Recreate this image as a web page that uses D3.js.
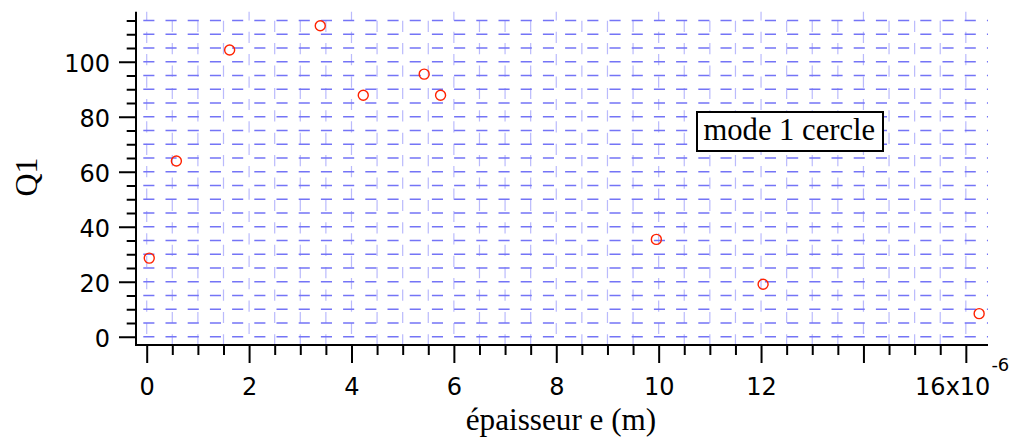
<!DOCTYPE html>
<html>
<head>
<meta charset="utf-8">
<script src="https://cdn.jsdelivr.net/npm/d3@7/dist/d3.min.js"></script>
<style>
  html, body { margin: 0; padding: 0; background: #fff; }
  svg { display: block; }
</style>
</head>
<body>
<svg id="chart" width="1010" height="438"></svg>
<script>
// épaisseur e, in units of 1e-6 m
const thickness = [0.05, 0.58, 1.62, 3.39, 4.23, 5.42, 5.74, 9.955, 12.04, 16.26];
// Q1 values
const q1 = [28.6, 63.9, 104.3, 113.1, 87.8, 95.5, 87.8, 35.4, 19.1, 8.4];
// axis ticks
const xMajorTicks = [0, 2, 4, 6, 8, 10, 12, 14, 16];
const xTickLabels = ["0", "2", "4", "6", "8", "10", "12", "", "16x10"];
const xExponent = "-6";
const yMajorTicks = [0, 20, 40, 60, 80, 100];
const yTickLabels = ["0", "20", "40", "60", "80", "100"];
const xMinorStep = 0.5;
const yMinorStep = 5;
const legendText = "mode 1 cercle";
const xTitle = "épaisseur e (m)";
const yTitle = "Q1";

const svg = d3.select("#chart");
const pLeft = 136, pRight = 988, pTop = 11.7, pBottom = 345;

const x = d3.scaleLinear().domain([-0.209, 16.433]).range([pLeft, pRight]);
const y = d3.scaleLinear().domain([-3.0, 118.2]).range([pBottom, pTop]);

const xMinor = d3.range(0, 16 + 1e-9, xMinorStep);
const yMinor = d3.range(0, 115 + 1e-9, yMinorStep);
const isXMajor = v => Math.abs(v / 2 - Math.round(v / 2)) < 1e-9;
const isYMajor = v => Math.abs(v / 20 - Math.round(v / 20)) < 1e-9 && v <= 100;

// grid
const grid = svg.append("g");
grid.selectAll("line.v").data(xMinor).join("line")
  .attr("class", "v")
  .attr("x1", d => x(d)).attr("x2", d => x(d))
  .attr("y1", pTop).attr("y2", pBottom)
  .attr("stroke", "#8c8cfa")
  .attr("stroke-opacity", 0.6)
  .attr("stroke-width", 1.2)
  .attr("stroke-dasharray", "11.2,11.2")
  .attr("stroke-dashoffset", d => isXMajor(d) ? 2.4 : 13.4);

grid.selectAll("line.h").data(yMinor).join("line")
  .attr("class", "h")
  .attr("x1", pLeft).attr("x2", pRight)
  .attr("y1", d => y(d)).attr("y2", d => y(d))
  .attr("stroke", "#7474f6")
  .attr("stroke-width", 1.3)
  .attr("stroke-dasharray", "11.1,11.1")
  .attr("stroke-dashoffset", 14.9);

// axes
const axisColor = "#000";
const xAxisMajor = d3.axisBottom(x).tickValues(xMajorTicks)
  .tickSize(18).tickPadding(12)
  .tickFormat((d, i) => xTickLabels[i]);
const xAxisMinor = d3.axisBottom(x).tickValues(xMinor.filter(v => !isXMajor(v)))
  .tickSize(10).tickFormat("");
const yAxisMajor = d3.axisLeft(y).tickValues(yMajorTicks)
  .tickSize(17).tickPadding(9)
  .tickFormat((d, i) => yTickLabels[i]);
const yAxisMinor = d3.axisLeft(y).tickValues(yMinor.filter(v => !isYMajor(v)))
  .tickSize(9.3).tickFormat("");

function styleAxis(g) {
  g.select(".domain").remove();
  g.selectAll(".tick line").attr("stroke", axisColor).attr("stroke-width", 2);
  g.selectAll(".tick text")
    .attr("fill", "#000")
    .style("font-family", "'DejaVu Sans', sans-serif")
    .style("font-size", "24px");
}

svg.append("g").attr("transform", `translate(0,${pBottom})`).call(xAxisMinor).call(styleAxis);
const gx = svg.append("g").attr("transform", `translate(0,${pBottom})`).call(xAxisMajor).call(styleAxis);
gx.selectAll(".tick text").attr("dy", null).attr("y", 50);

// exponent on last x label
gx.selectAll(".tick").filter(d => d === 16).select("text")
  .attr("text-anchor", "end").attr("x", 43)
  .append("tspan").attr("dy", -24).style("font-size", "18px").attr("dx", 1).text(xExponent);

svg.append("g").attr("transform", `translate(${pLeft},0)`).call(yAxisMinor).call(styleAxis);
const gy = svg.append("g").attr("transform", `translate(${pLeft},0)`).call(yAxisMajor).call(styleAxis);
gy.selectAll(".tick text").attr("dy", "0.42em");

// axis lines
svg.append("line").attr("x1", pLeft).attr("x2", pRight).attr("y1", pBottom).attr("y2", pBottom)
  .attr("stroke", axisColor).attr("stroke-width", 2);
svg.append("line").attr("x1", pLeft).attr("x2", pLeft).attr("y1", pTop).attr("y2", pBottom + 1)
  .attr("stroke", axisColor).attr("stroke-width", 2);

// points
const pts = thickness.map((t, i) => ({ t, q: q1[i] }));
svg.append("g").selectAll("circle").data(pts).join("circle")
  .attr("cx", d => x(d.t)).attr("cy", d => y(d.q)).attr("r", 5)
  .attr("fill", "none").attr("stroke", "#ff2200").attr("stroke-width", 1.4);

// legend
const lg = svg.append("g");
lg.append("rect").attr("x", 697).attr("y", 112).attr("width", 186).attr("height", 39)
  .attr("fill", "#fff").attr("stroke", "#000").attr("stroke-width", 2);
lg.append("text").attr("x", 703.5).attr("y", 139.5)
  .style("font-family", "'Liberation Serif', 'Times New Roman', serif")
  .style("font-size", "30.6px").attr("fill", "#000").text(legendText);

// titles
svg.append("text").attr("x", 561).attr("y", 430).attr("text-anchor", "middle")
  .style("font-family", "'Liberation Serif', 'Times New Roman', serif")
  .style("font-size", "31.2px").attr("fill", "#000").text(xTitle);
svg.append("text").attr("transform", "translate(37,177) rotate(-90)").attr("text-anchor", "middle")
  .style("font-family", "'Liberation Serif', 'Times New Roman', serif")
  .style("font-size", "32px").attr("fill", "#000").text(yTitle);
</script>
</body>
</html>
